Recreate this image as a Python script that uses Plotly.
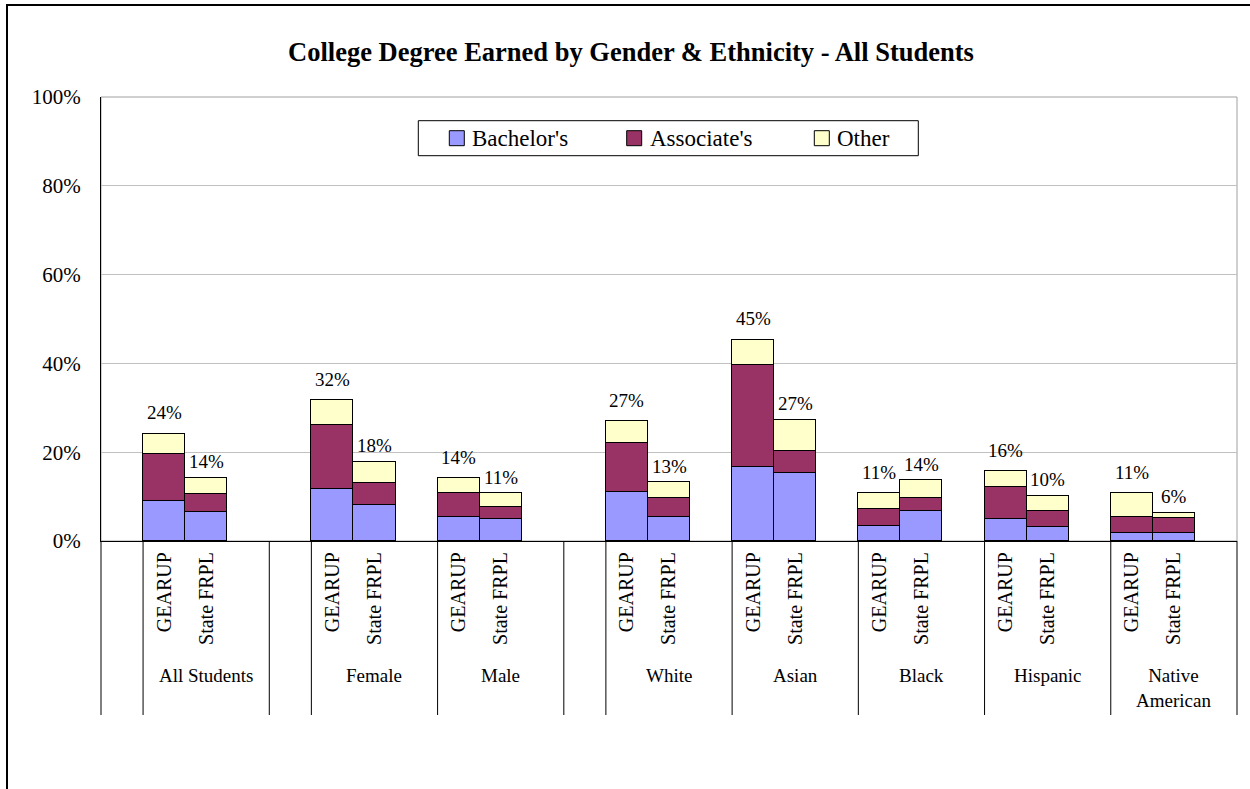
import plotly.graph_objects as go

# categories
groups = ["All Students", "Female", "Male", "White", "Asian", "Black", "Hispanic", "Native American"]
group_text = ["All Students", "Female", "Male", "White", "Asian", "Black", "Hispanic", "Native<br>American"]
programs = ["GEARUP", "State FRPL"]

# percent of students, per group: GEARUP then State FRPL
bachelors = [9.0, 6.5, 11.7, 8.0, 5.3, 5.0, 11.1, 5.3, 16.6, 15.4, 3.3, 6.7, 4.9, 3.2, 1.7, 1.9]
associates = [10.5, 4.0, 14.4, 5.0, 5.5, 2.6, 11.0, 4.3, 23.1, 4.9, 3.9, 3.0, 7.2, 3.5, 3.8, 3.3]
other = [4.7, 3.8, 5.6, 4.8, 3.3, 3.2, 4.9, 3.6, 5.6, 7.0, 3.6, 4.0, 3.6, 3.5, 5.3, 1.2]

series = [("Bachelor's", bachelors, "#9999FF"),
          ("Associate's", associates, "#993366"),
          ("Other", other, "#FFFFCC")]

FONT = "Liberation Serif, Times New Roman, serif"
W, H = 1250, 789
PLOT_L, PLOT_R, PLOT_T, PLOT_B = 101, 1237, 97, 541


# page pixel -> paper coordinate helpers (for the decorations only)
def px(x):
    return (x - PLOT_L) / (PLOT_R - PLOT_L)


def py(y):
    return (PLOT_B - y) / (PLOT_B - PLOT_T)


# slot layout of the category axis (Excel style: blank slot between sections,
# every group = 2 bars + 1 empty slot)
spacer_before = {"All Students", "Female", "White"}
slot = 0
bar_x = []
group_center = []
dividers = [0]
for g in groups:
    if g in spacer_before:
        slot += 1
        dividers.append(slot)
    bar_x += [slot + 0.5, slot + 1.5]
    group_center.append(slot + 1.5)
    slot += 3
    dividers.append(slot)
n_slots = slot

fig = go.Figure()

for name, vals, color in series:
    fig.add_trace(go.Bar(
        x=bar_x, y=vals, width=1, name=name, showlegend=False,
        marker=dict(color=color, line=dict(color="black", width=1.3)),
        hovertemplate="%{y:.1f}%<extra>" + name + "</extra>",
    ))

# total labels above each stack
totals = [b + a + o for b, a, o in zip(bachelors, associates, other)]
label_shift = {"GEARUP": 21, "State FRPL": 16}
for i, (x, t) in enumerate(zip(bar_x, totals)):
    fig.add_annotation(x=x, y=t, text=f"{round(t)}%", showarrow=False,
                       yanchor="middle", yshift=label_shift[programs[i % 2]],
                       font=dict(family=FONT, size=19, color="black"))

# group labels under the rotated program labels
for x, txt in zip(group_center, group_text):
    fig.add_annotation(x=x, y=py(663), yref="paper", text=txt, showarrow=False,
                       yanchor="top", font=dict(family=FONT, size=19, color="black"))

# category divider lines running down through the label area
for d in dividers:
    fig.add_shape(type="line", xref="paper", yref="paper",
                  x0=d / n_slots, x1=d / n_slots, y0=0, y1=py(715),
                  line=dict(color="black", width=1))

# plot-area frame (grey) and outer chart frame
fig.add_shape(type="rect", xref="paper", yref="paper", x0=0, x1=1, y0=0, y1=1,
              line=dict(color="#A0A0A0", width=1), layer="below")
fig.add_shape(type="rect", xref="paper", yref="paper", x0=px(7), x1=px(1270), y0=py(810), y1=py(5),
              line=dict(color="black", width=2))

# legend box drawn like the Excel one
legend_x = [449.3, 626.7, 814.3]
fig.add_shape(type="rect", xref="paper", yref="paper",
              x0=px(418.3), x1=px(918.3), y0=py(155.7), y1=py(120.7),
              line=dict(color="black", width=1), fillcolor="white")
for (name, _, color), lx in zip(series, legend_x):
    fig.add_shape(type="rect", xref="paper", yref="paper",
                  x0=px(lx), x1=px(lx + 15), y0=py(145.7), y1=py(130.7),
                  line=dict(color="black", width=1), fillcolor=color)
    fig.add_annotation(x=px(lx + 21), y=py(138.5), xref="paper", yref="paper",
                       text=name, showarrow=False, xanchor="left", yanchor="middle",
                       font=dict(family=FONT, size=23, color="black"))

fig.update_layout(
    width=W, height=H,
    margin=dict(l=PLOT_L, r=W - PLOT_R, t=PLOT_T, b=H - PLOT_B),
    paper_bgcolor="white", plot_bgcolor="white",
    font=dict(family=FONT, color="black"),
    title=dict(text="<b>College Degree Earned by Gender & Ethnicity - All Students</b>",
               xref="container", yref="container", x=631 / W, xanchor="center",
               y=1 - 52 / H, yanchor="middle",
               font=dict(family=FONT, size=26.5, color="black")),
    barmode="stack", bargap=0,
    xaxis=dict(range=[0, n_slots], tickvals=bar_x, ticktext=programs * len(groups),
               tickangle=-90, ticks="", showgrid=False, zeroline=False,
               showline=True, linecolor="black", linewidth=1.3,
               tickfont=dict(family=FONT, size=20, color="black"), ticklabelstandoff=2),
    yaxis=dict(range=[0, 100], dtick=20, ticksuffix="%", ticks="",
               showgrid=True, gridcolor="#C0C0C0", gridwidth=1, zeroline=False,
               showline=True, linecolor="black", linewidth=1.3,
               tickfont=dict(family=FONT, size=21, color="black"), ticklabelstandoff=15),
)

fig.write_html("out.html", config={"displayModeBar": False},
               post_script="document.body.style.margin='0px';")
